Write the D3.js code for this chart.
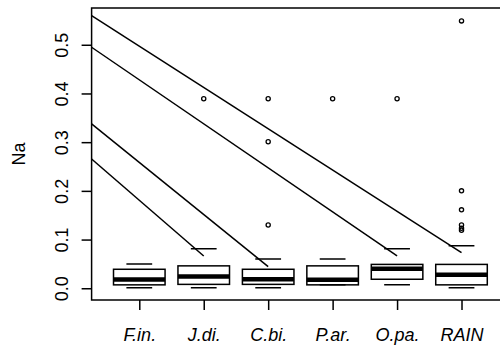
<!DOCTYPE html>
<html>
<head>
<meta charset="utf-8">
<script src="https://cdn.jsdelivr.net/npm/d3@7"></script>
<style>
  html, body { margin: 0; padding: 0; background: #fff; }
  svg { display: block; }
  text { font-family: "Liberation Sans", Arial, Helvetica, sans-serif; fill: #000; }
</style>
</head>
<body>
<svg id="chart" width="500" height="352"></svg>
<script>
// Sodium concentration by source: box summaries per group
const categories   = ["F.in.", "J.di.", "C.bi.", "P.ar.", "O.pa.", "RAIN"];
const lowerWhisker = [0.001, 0.001, 0.001, 0.007, 0.007, 0.001];
const q1           = [0.007, 0.008, 0.008, 0.007, 0.0185, 0.007];
const medians      = [0.018, 0.024, 0.0185, 0.0175, 0.040, 0.028];
const q3           = [0.039, 0.046, 0.039, 0.046, 0.049, 0.049];
const upperWhisker = [0.050, 0.081, 0.060, 0.060, 0.081, 0.0875];
const outliers     = [
  [],
  [0.389],
  [0.389, 0.301, 0.130],
  [0.389],
  [0.389],
  [0.549, 0.200, 0.161, 0.130, 0.123, 0.119]
];
const yTicks = [0.0, 0.1, 0.2, 0.3, 0.4, 0.5];

// Pointer lines: start value at the left edge, end at a group's whisker tip
const pointerStart    = [0.5597, 0.4949, 0.3374, 0.2655];
const pointerEndGroup = [6, 5, 3, 2];
const pointerEndValue = [0.0731, 0.0663, 0.0444, 0.0663];

const svg = d3.select("#chart");

// Plot region (x runs over group positions 1..n with padding)
const plotLeft = 91.6, plotRight = 509.2, plotTop = 8, plotBottom = 300;
const xDomain = [0.26, categories.length + 0.74];
const yDomain = [-0.0241, 0.5755];
const x = d3.scaleLinear().domain(xDomain).range([plotLeft, plotRight]);
const y = d3.scaleLinear().domain(yDomain).range([plotBottom, plotTop]);

const boxW = 0.8 * (x(2) - x(1));
const capW = boxW / 2;
const lw = 1.5;

svg.append("clipPath").attr("id", "plotClip")
  .append("rect").attr("x", plotLeft).attr("y", plotTop)
  .attr("width", plotRight - plotLeft).attr("height", plotBottom - plotTop);

const plot = svg.append("g").attr("clip-path", "url(#plotClip)");

const groups = categories.map((c, i) => ({
  name: c, pos: i + 1,
  lo: lowerWhisker[i], q1: q1[i], med: medians[i], q3: q3[i], hi: upperWhisker[i],
  out: outliers[i]
}));

// Boxes
const g = plot.selectAll("g.box").data(groups).join("g").attr("class", "box");

g.append("rect")
  .attr("x", d => x(d.pos) - boxW / 2)
  .attr("y", d => y(d.q3))
  .attr("width", boxW)
  .attr("height", d => y(d.q1) - y(d.q3))
  .attr("fill", "#fff").attr("stroke", "#000").attr("stroke-width", lw);

g.append("line")
  .attr("x1", d => x(d.pos) - boxW / 2).attr("x2", d => x(d.pos) + boxW / 2)
  .attr("y1", d => y(d.med)).attr("y2", d => y(d.med))
  .attr("stroke", "#000").attr("stroke-width", 4.5);

// Whisker caps
g.append("line")
  .attr("x1", d => x(d.pos) - capW / 2).attr("x2", d => x(d.pos) + capW / 2)
  .attr("y1", d => y(d.hi)).attr("y2", d => y(d.hi))
  .attr("stroke", "#000").attr("stroke-width", lw);
g.append("line")
  .attr("x1", d => x(d.pos) - capW / 2).attr("x2", d => x(d.pos) + capW / 2)
  .attr("y1", d => y(d.lo)).attr("y2", d => y(d.lo))
  .attr("stroke", "#000").attr("stroke-width", lw);

// Outlying points
g.selectAll("circle")
  .data(d => d.out.map(v => ({ pos: d.pos, v })))
  .join("circle")
  .attr("cx", d => x(d.pos)).attr("cy", d => y(d.v))
  .attr("r", 2.1)
  .attr("fill", "none").attr("stroke", "#000").attr("stroke-width", 1.3);

// Pointer lines
plot.selectAll("line.pointer")
  .data(pointerStart.map((s, i) => ({ s, g: pointerEndGroup[i], e: pointerEndValue[i] })))
  .join("line").attr("class", "pointer")
  .attr("x1", x(xDomain[0])).attr("y1", d => y(d.s))
  .attr("x2", d => x(d.g)).attr("y2", d => y(d.e))
  .attr("stroke", "#000").attr("stroke-width", lw);

// Frame
svg.append("rect")
  .attr("x", plotLeft).attr("y", plotTop)
  .attr("width", plotRight - plotLeft).attr("height", plotBottom - plotTop)
  .attr("fill", "none").attr("stroke", "#000").attr("stroke-width", lw);

// Y axis
const yAxis = d3.axisLeft(y).tickValues(yTicks).tickSize(10).tickFormat(d3.format(".1f"));
const ya = svg.append("g").attr("transform", `translate(${plotLeft},0)`).call(yAxis);
ya.select(".domain").remove();
ya.selectAll(".tick line").attr("stroke", "#000").attr("stroke-width", lw);
ya.selectAll(".tick text").remove();
ya.selectAll(".tick").append("text")
  .attr("transform", "translate(-23.5,0) rotate(-90)")
  .attr("text-anchor", "middle")
  .attr("font-size", 18)
  .text(d => d3.format(".1f")(d));

// X axis
const xAxis = d3.axisBottom(x).tickValues(groups.map(d => d.pos)).tickSize(10)
  .tickFormat(d => categories[d - 1]);
const xa = svg.append("g").attr("transform", `translate(0,${plotBottom})`).call(xAxis);
xa.select(".domain").remove();
xa.selectAll(".tick line").attr("stroke", "#000").attr("stroke-width", lw);
xa.selectAll(".tick text")
  .attr("y", 41).attr("dy", null)
  .attr("font-size", 18).attr("font-style", "italic")
  .attr("font-family", "Liberation Sans, Arial, sans-serif").attr("fill", "#000");

// Y axis title
svg.append("text")
  .attr("transform", `translate(25,${(plotTop + plotBottom) / 2}) rotate(-90)`)
  .attr("text-anchor", "middle")
  .attr("font-size", 18)
  .text("Na");
</script>
</body>
</html>
